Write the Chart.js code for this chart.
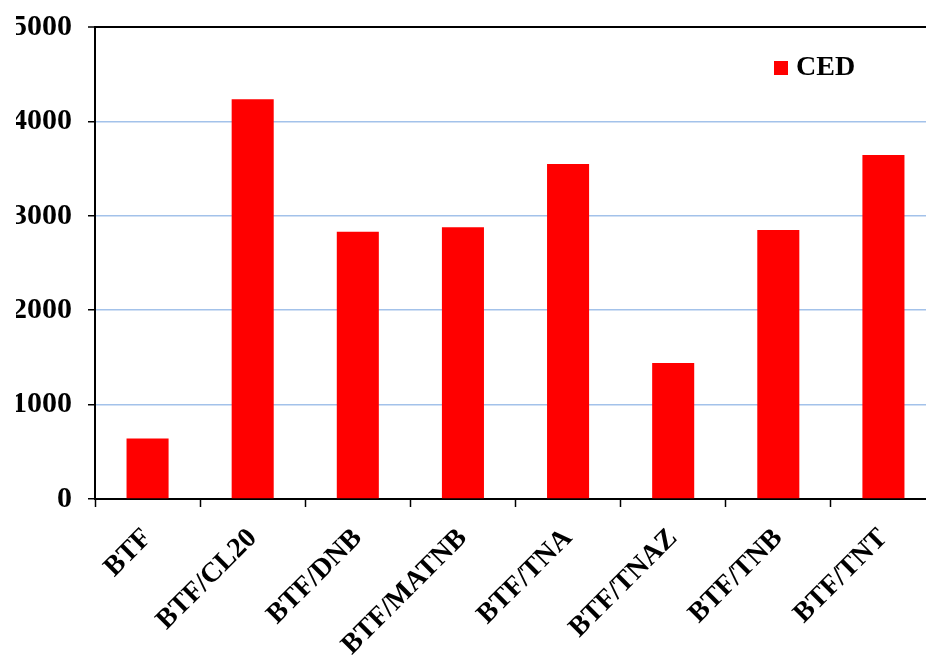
<!DOCTYPE html>
<html>
<head>
<meta charset="utf-8">
<script src="https://cdn.jsdelivr.net/npm/chart.js@4"></script>
<style>
  html, body { margin: 0; padding: 0; background: #fff; overflow: hidden; }
  #wrap { position: relative; width: 936px; height: 658px; }
</style>
</head>
<body>
<div id="wrap"><canvas id="c"></canvas></div>
<script>
// Mixture names and their CED values
const categories = ['BTF', 'BTF/CL20', 'BTF/DNB', 'BTF/MATNB', 'BTF/TNA', 'BTF/TNAZ', 'BTF/TNB', 'BTF/TNT'];
const cedValues = [640, 4235, 2830, 2880, 3550, 1440, 2850, 3645];
const seriesName = 'CED';
const yTicks = [0, 1000, 2000, 3000, 4000, 5000];

const serif = '"Liberation Serif", "Times New Roman", serif';

// Legend drawn inside the plot area, top-right
const innerLegend = {
  id: 'innerLegend',
  afterDraw(chart) {
    const { ctx, chartArea } = chart;
    const ds = chart.data.datasets[0];
    const x = chartArea.right - 162;
    const y = chartArea.top + 34;
    ctx.save();
    ctx.fillStyle = ds.backgroundColor;
    ctx.fillRect(x, y, 14, 14);
    ctx.fillStyle = '#000';
    ctx.font = 'bold 28px ' + serif;
    ctx.textBaseline = 'middle';
    ctx.textAlign = 'left';
    ctx.fillText(ds.label, x + 22, y + 7);
    ctx.restore();
  }
};

new Chart(document.getElementById('c'), {
  type: 'bar',
  data: {
    labels: categories,
    datasets: [{
      label: seriesName,
      data: cedValues,
      backgroundColor: '#ff0000',
      borderWidth: 0,
      barPercentage: 0.4,
      categoryPercentage: 1.0
    }]
  },
  options: {
    responsive: true,
    maintainAspectRatio: false,
    animation: false,
    devicePixelRatio: 1,
    layout: { padding: { top: 27, left: 16, right: 0, bottom: 0 } },
    plugins: {
      legend: { display: false },
      tooltip: { enabled: false }
    },
    scales: {
      x: {
        offset: true,
        grid: {
          offset: true,
          drawOnChartArea: false,
          drawTicks: true,
          tickLength: 8,
          tickColor: '#000',
          tickWidth: 1.5
        },
        border: { color: '#000', width: 2 },
        ticks: {
          color: '#000',
          font: { family: serif, size: 28, weight: 'bold' },
          minRotation: 45,
          maxRotation: 45,
          padding: 15,
          autoSkip: false
        },
        afterFit(scale) {
          scale.height = 159;
          scale.paddingLeft = 0;
          scale.paddingRight = 0;
        }
      },
      y: {
        min: 0,
        max: 5000,
        afterBuildTicks(scale) { scale.ticks = yTicks.map(v => ({ value: v })); },
        grid: {
          color: ctx => (ctx.tick && ctx.tick.value === 5000) ? '#000' : '#a3c2ea',
          lineWidth: ctx => (ctx.tick && ctx.tick.value === 5000) ? 2 : 1.5,
          tickLength: 7,
          tickColor: '#000',
          tickWidth: 1.5
        },
        border: { color: '#000', width: 2 },
        ticks: {
          color: '#000',
          font: { family: serif, size: 30, weight: 'bold' },
          padding: 16,
          callback: v => String(v)
        },
        afterFit(scale) {
          scale.width = 79;
          scale.paddingTop = 0;
          scale.paddingBottom = 0;
        }
      }
    }
  },
  plugins: [innerLegend]
});
</script>
</body>
</html>
